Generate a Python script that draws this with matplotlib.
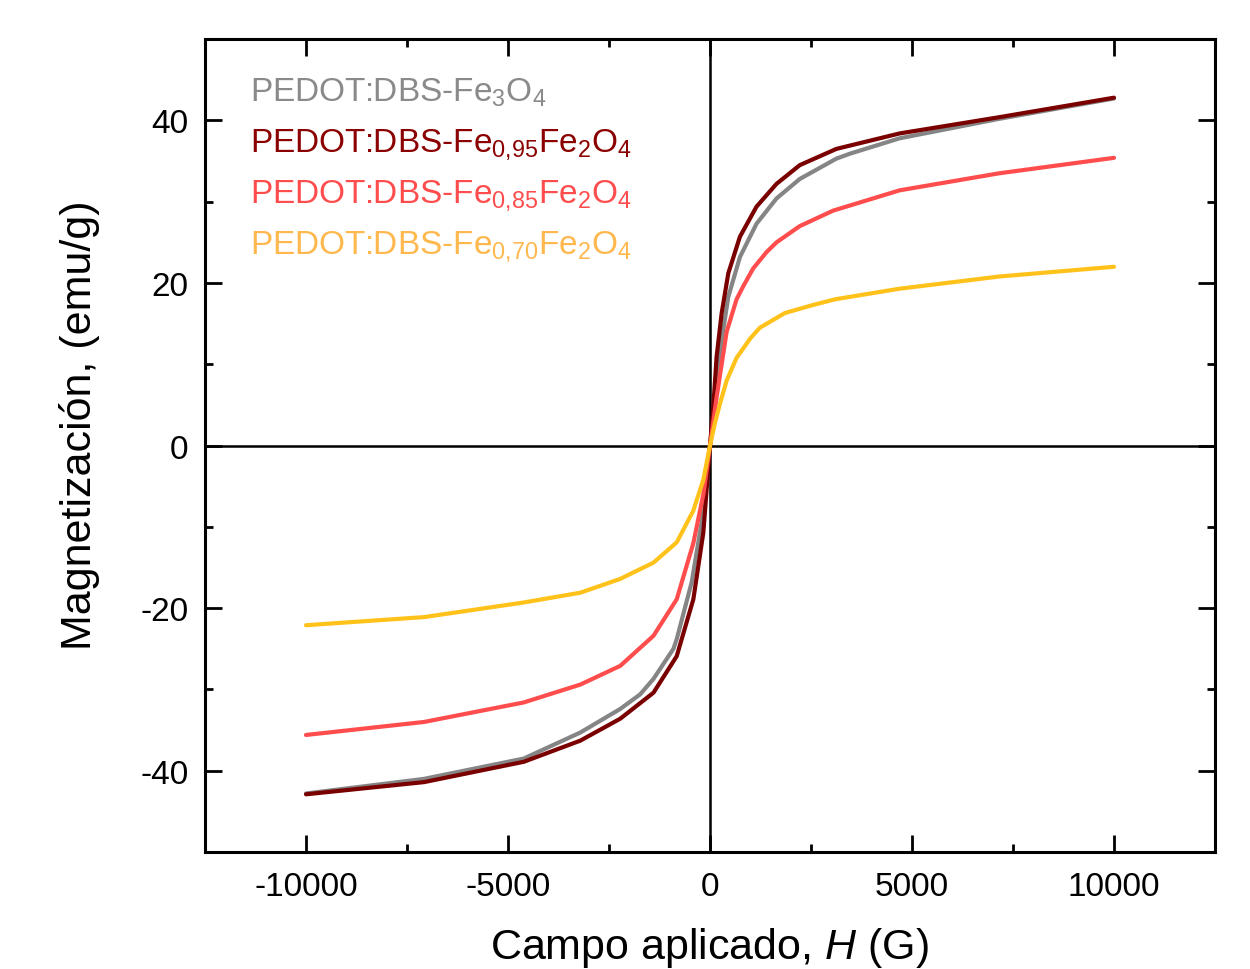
import numpy as np
import matplotlib
matplotlib.use('Agg')
import matplotlib.pyplot as plt
from matplotlib.ticker import MultipleLocator

plt.rcParams['font.family'] = ['Liberation Sans', 'DejaVu Sans']
plt.rcParams['mathtext.fontset'] = 'custom'
plt.rcParams['mathtext.rm'] = 'Liberation Sans'
plt.rcParams['mathtext.it'] = 'Liberation Sans:italic'
plt.rcParams['axes.unicode_minus'] = False

# curves: field H (G) and magnetization M (emu/g)
h_fe3o4 = [-10000, -7078, -4610, -3210, -2222, -1728, -1399, -905, -823, -453, -206, 0,
           165, 289, 453, 741, 1152, 1646, 2222, 3128, 3457, 4691, 7160, 10000]
m_fe3o4 = [-42.8, -41.0, -38.5, -35.3, -32.4, -30.6, -28.7, -25.0, -23.8, -16.8, -9.4, 0,
           6.9, 13.0, 18.3, 23.2, 27.3, 30.4, 32.8, 35.3, 35.9, 37.8, 40.2, 42.7]

h_fe095 = [-10000, -7078, -4610, -3210, -2222, -1399, -823, -412, -165, 0,
           82, 165, 289, 453, 741, 1152, 1646, 2222, 3128, 4691, 7160, 10000]
m_fe095 = [-42.9, -41.4, -38.9, -36.3, -33.6, -30.4, -25.9, -18.9, -10.7, 0,
           4.8, 11.0, 16.3, 21.2, 25.7, 29.4, 32.2, 34.5, 36.5, 38.4, 40.4, 42.8]

h_fe085 = [-10000, -7078, -4610, -3210, -2222, -1399, -823, -412, -165, 0,
           165, 412, 658, 823, 1070, 1399, 1646, 2222, 3045, 4691, 7160, 10000]
m_fe085 = [-35.6, -34.0, -31.6, -29.4, -27.1, -23.4, -18.9, -12.0, -6.0, 0,
           6.0, 14.0, 18.0, 19.6, 21.8, 23.8, 25.0, 27.0, 28.9, 31.4, 33.5, 35.4]

h_fe070 = [-10000, -7078, -4610, -3210, -2222, -1399, -823, -412, -165, 0,
           123, 250, 412, 658, 1000, 1235, 1850, 2550, 3100, 4691, 7160, 10000]
m_fe070 = [-22.1, -21.1, -19.3, -18.1, -16.4, -14.4, -11.9, -8.0, -4.2, 0,
           2.8, 5.2, 8.0, 10.8, 13.2, 14.5, 16.3, 17.3, 18.0, 19.3, 20.8, 22.0]

labels = [r'PEDOT:DBS-Fe$_{3}$O$_{4}$',
          r'PEDOT:DBS-Fe$_{0{,}95}$Fe$_{2}$O$_{4}$',
          r'PEDOT:DBS-Fe$_{0{,}85}$Fe$_{2}$O$_{4}$',
          r'PEDOT:DBS-Fe$_{0{,}70}$Fe$_{2}$O$_{4}$']
line_colors = ['#858585', '#7a0000', '#ff4d4d', '#ffc21a']
text_colors = ['#8a8a8a', '#8b0000', '#ff4d4d', '#ffb84d']

fig = plt.figure(figsize=(12.5, 9.7), dpi=100)
ax = fig.add_axes([0.164, 0.1206, 0.808, 0.838])

ax.axhline(0, color='black', lw=1.8, zorder=1)
ax.axvline(0, color='black', lw=1.8, zorder=1)

series = [(h_fe3o4, m_fe3o4), (h_fe095, m_fe095), (h_fe085, m_fe085), (h_fe070, m_fe070)]
for (h, m), c in zip(series, line_colors):
    ax.plot(h, m, color=c, lw=3.0, solid_capstyle='round', solid_joinstyle='round', zorder=3)

# legend as coloured text
for i, (lab, tc) in enumerate(zip(labels, text_colors)):
    ax.text(0.045, 0.935 - i * 0.063, lab, color=tc, fontsize=24,
            transform=ax.transAxes, va='center', ha='left')

ax.set_xlim(-12500, 12500)
ax.set_ylim(-50, 50)
ax.xaxis.set_major_locator(MultipleLocator(5000))
ax.xaxis.set_minor_locator(MultipleLocator(2500))
ax.yaxis.set_major_locator(MultipleLocator(20))
ax.yaxis.set_minor_locator(MultipleLocator(10))

ax.tick_params(which='both', direction='in', top=True, right=True, width=2)
ax.tick_params(which='major', length=12, labelsize=24)
ax.tick_params(axis='x', which='major', pad=14)
ax.tick_params(axis='y', which='major', pad=12)
ax.tick_params(which='minor', length=6)
for s in ax.spines.values():
    s.set_linewidth(2.2)

ax.set_xlabel(r'Campo aplicado, $\mathit{H}$ (G)', fontsize=31, labelpad=16)
ax.set_ylabel('Magnetización, (emu/g)', fontsize=31)
ax.yaxis.set_label_coords(-0.104, 0.526)

fig.savefig('out.png', dpi=100)
